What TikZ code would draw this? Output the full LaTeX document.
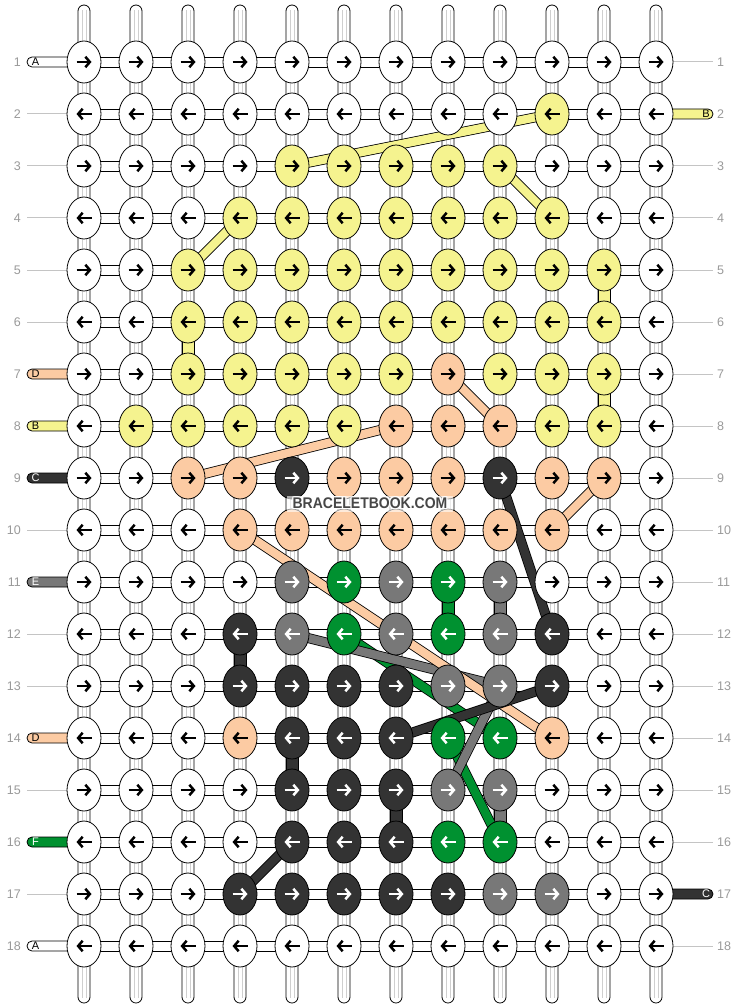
\documentclass[tikz,border=0pt]{standalone}
\usepackage{fontspec}
\setmainfont{Liberation Sans}
\usetikzlibrary{arrows.meta,calc,shapes.geometric}
\definecolor{kW}{HTML}{FFFFFF}
\definecolor{kY}{HTML}{F5F38F}
\definecolor{kP}{HTML}{FCCBA3}
\definecolor{kD}{HTML}{333333}
\definecolor{kG}{HTML}{787878}
\definecolor{kN}{HTML}{009130}
\colorlet{aW}{black}\colorlet{aY}{black}\colorlet{aP}{black}
\colorlet{aD}{white}\colorlet{aG}{white}\colorlet{aN}{white}
\definecolor{lbl}{HTML}{9A9A9A}
\definecolor{guide}{HTML}{C4C4C4}
\definecolor{innerln}{HTML}{CFCFCF}
\definecolor{wmark}{HTML}{474747}
\newcommand\rowy[1]{62+52*(#1-1)}
\newcommand\colx[1]{84+52*(#1-1)}
\newcommand\lefttab[3]{%
  \draw[fill=k#2, line width=0.8pt, rounded corners=5pt] (27,{\rowy{#1}-5}) rectangle (84,{\rowy{#1}+5});
  \node[tabtxt, text=a#2] (lt#1) at (35.5,{\rowy{#1}}) {#3};}
\newcommand\righttab[3]{%
  \draw[fill=k#2, line width=0.8pt, rounded corners=5pt] (656,{\rowy{#1}-5}) rectangle (713,{\rowy{#1}+5});
  \node[tabtxt, text=a#2] (rt#1) at (706,{\rowy{#1}}) {#3};}
\newcommand\vseg[3]{% column, upper row, colour
  \draw[fill=k#3, line width=0.8pt] ({\colx{#1}-6},{\rowy{#2}}) rectangle ({\colx{#1}+6},{\rowy{#2}+52});}
\newcommand\strandband[3]{% colour, from, to
  \draw[line width=10pt, black] (#2) -- (#3);
  \draw[line width=8.4pt, k#1] (#2) -- (#3);}
\begin{document}
\begin{tikzpicture}[x=1pt,y=-1pt,
  knot/.style={draw=black, line width=0.8pt, ellipse, minimum width=34pt, minimum height=42pt, inner sep=0pt},
  arr/.style={line width=2.5pt, -{Straight Barb[length=4.5pt,width=10.5pt]}},
  tabtxt/.style={font=\fontsize{11}{11}\selectfont, inner sep=0pt},
  rowlbl/.style={font=\fontsize{12.5}{12.5}\selectfont, text=lbl, inner sep=0pt},
  wmtxt/.style={font=\bfseries\fontsize{14}{14}\selectfont, inner sep=0pt, yscale=1.1}]
\useasboundingbox[fill=white] (0,0) rectangle (740,1008);
% vertical strands with tails
\foreach \j in {1,...,12} {
  \draw[fill=white, line width=0.8pt, rounded corners=6pt] ({\colx{\j}-6},5) rectangle ({\colx{\j}+6},1003);
  \draw[innerln, line width=0.7pt] ({\colx{\j}-2},10) -- ({\colx{\j}-2},998);
  \draw[innerln, line width=0.7pt] ({\colx{\j}+2},10) -- ({\colx{\j}+2},998);
}
% coloured vertical segments
\vseg{3}{6}{Y}
\vseg{11}{5}{Y}
\vseg{11}{7}{Y}
\vseg{8}{11}{N}
\vseg{9}{11}{G}
\vseg{4}{12}{D}
\vseg{5}{14}{D}
\vseg{7}{15}{D}
\vseg{9}{15}{G}
% horizontal connectors
\foreach \i in {1,...,18} {
  \draw[fill=white, line width=0.8pt] (84,{\rowy{\i}-5}) rectangle (656,{\rowy{\i}+5});
}
% left and right guides / tabs
\foreach \i in {2,3,4,5,6,10,12,13,15,17} {
  \draw[guide, line width=1pt] (27,{\rowy{\i}}) -- (67,{\rowy{\i}});
}
\foreach \i in {1,3,4,5,6,7,8,9,10,11,12,13,14,15,16,18} {
  \draw[guide, line width=1pt] (673,{\rowy{\i}}) -- (713,{\rowy{\i}});
}
\lefttab{1}{W}{A}
\lefttab{7}{P}{D}
\lefttab{8}{Y}{B}
\lefttab{9}{D}{C}
\lefttab{11}{G}{E}
\lefttab{14}{P}{D}
\lefttab{16}{N}{F}
\lefttab{18}{W}{A}
\righttab{2}{Y}{B}
\righttab{17}{D}{C}
% knot positions (coordinates) for bands
\foreach \i in {1,...,18} {
  \foreach \j in {1,...,12} {
    \coordinate (c\i-\j) at ({\colx{\j}},{\rowy{\i}});
  }
}
% diagonal strand bands
\strandband{Y}{c2-10}{c3-5}
\strandband{Y}{c3-9}{c4-10}
\strandband{Y}{c4-4}{c5-3}
\strandband{P}{c7-8}{c8-9}
\strandband{P}{c8-7}{c9-3}
\strandband{P}{c9-11}{c10-10}
\strandband{N}{c12-6}{c14-9}
\strandband{N}{c14-8}{c16-9}
\strandband{G}{c12-5}{c13-9}
\strandband{G}{c13-9}{c15-8}
\strandband{P}{c10-4}{c14-10}
\strandband{D}{c9-9}{c12-10}
\strandband{D}{c13-10}{c14-7}
\strandband{D}{c16-5}{c17-4}
% knots
\foreach \r [count=\i] in {
 {W,W,W,W,W,W,W,W,W,W,W,W},
 {W,W,W,W,W,W,W,W,W,Y,W,W},
 {W,W,W,W,Y,Y,Y,Y,Y,W,W,W},
 {W,W,W,Y,Y,Y,Y,Y,Y,Y,W,W},
 {W,W,Y,Y,Y,Y,Y,Y,Y,Y,Y,W},
 {W,W,Y,Y,Y,Y,Y,Y,Y,Y,Y,W},
 {W,W,Y,Y,Y,Y,Y,P,Y,Y,Y,W},
 {W,Y,Y,Y,Y,Y,P,P,P,Y,Y,W},
 {W,W,P,P,D,P,P,P,D,P,P,W},
 {W,W,W,P,P,P,P,P,P,P,W,W},
 {W,W,W,W,G,N,G,N,G,W,W,W},
 {W,W,W,D,G,N,G,N,G,D,W,W},
 {W,W,W,D,D,D,D,G,G,D,W,W},
 {W,W,W,P,D,D,D,N,N,P,W,W},
 {W,W,W,W,D,D,D,G,G,W,W,W},
 {W,W,W,W,D,D,D,N,N,W,W,W},
 {W,W,W,D,D,D,D,D,G,G,W,W},
 {W,W,W,W,W,W,W,W,W,W,W,W}} {
  \foreach \c [count=\j] in \r {
    \node[knot, fill=k\c] (k\i-\j) at (c\i-\j) {};
    \ifodd\i
      \draw[arr, draw=a\c] ([xshift=-7.5pt]k\i-\j.center) -- ([xshift=7.5pt]k\i-\j.center);
    \else
      \draw[arr, draw=a\c] ([xshift=7.5pt]k\i-\j.center) -- ([xshift=-7.5pt]k\i-\j.center);
    \fi
  }
}
% row labels
\foreach \i in {1,...,18} {
  \node[rowlbl, anchor=east] (ll\i) at (21,{\rowy{\i}}) {\i};
  \node[rowlbl, anchor=west] (rl\i) at (717,{\rowy{\i}}) {\i};
}
% watermark
\fill[white, opacity=0.6] (287,496) rectangle (453,512);
\foreach \dx/\dy [count=\n] in {-1/0,1/0,0/-1,0/1,-1/-1,1/1,-1/1,1/-1} {
  \node[wmtxt, text=white] (wmo\n) at ({370+\dx},{503.5+\dy}) {BRACELETBOOK.COM};
}
\node[wmtxt, text=wmark] (wm) at (370,503.5) {BRACELETBOOK.COM};
\end{tikzpicture}
\end{document}
